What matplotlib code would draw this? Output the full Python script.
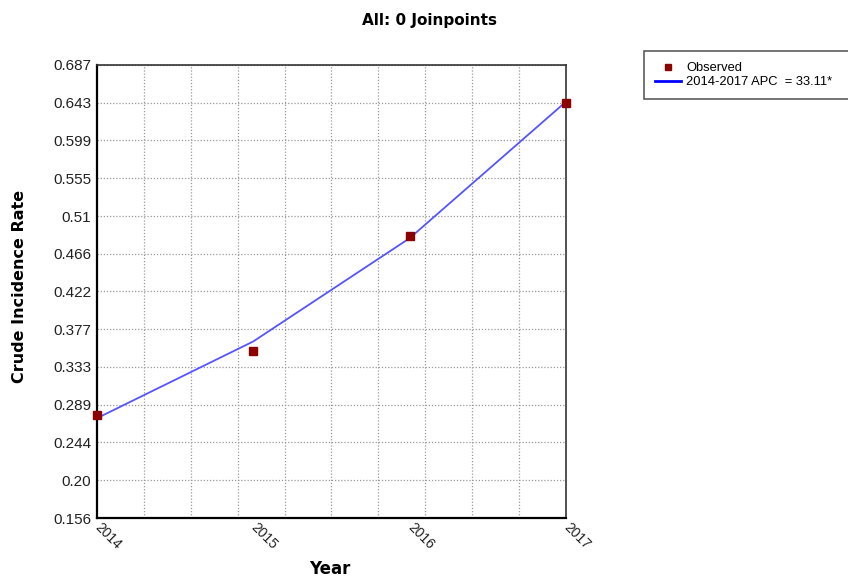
import matplotlib
matplotlib.use("Agg")
import matplotlib.pyplot as plt
import numpy as np
from matplotlib.ticker import FixedLocator

# Crude incidence rate, observed and modelled (0 joinpoints)
years = [2014, 2015, 2016, 2017]
observed = [0.277, 0.352, 0.487, 0.642]
fitted = [0.273, 0.363, 0.484, 0.644]
apc_label = "2014-2017 APC  = 33.11*"

y_tick_labels = ["0.156", "0.20", "0.244", "0.289", "0.333", "0.377", "0.422",
                 "0.466", "0.51", "0.555", "0.599", "0.643", "0.687"]
y_min, y_max = 0.156, 0.687

fig = plt.figure(figsize=(8.48, 5.79), dpi=100)
ax = fig.add_axes([97 / 848, 1 - 518 / 579, 469 / 848, 453 / 579])

ax.plot(years, fitted, color="#5555ff", lw=1.3, label=apc_label, zorder=3)
ax.plot(years, observed, ls="none", marker="s", ms=6, color="#8b0000",
        label="Observed", zorder=4, clip_on=False)

ax.set_xlim(2014, 2017)
ax.set_ylim(y_min, y_max)

# y ticks evenly spaced between the axis limits
ax.yaxis.set_major_locator(FixedLocator(np.linspace(y_min, y_max, len(y_tick_labels))))
ax.set_yticklabels(y_tick_labels, fontsize=11, family="Liberation Sans", color="#222222")

ax.set_xticks(years)
ax.set_xticklabels([str(y) for y in years], fontsize=10, family="Liberation Sans",
                   color="#222222", rotation=-45, ha="left", va="center",
                   rotation_mode="anchor")
ax.xaxis.set_minor_locator(FixedLocator(np.arange(2014.3, 2017, 0.3)))

ax.tick_params(axis="both", which="both", length=0)
ax.tick_params(axis="y", pad=4)
ax.tick_params(axis="x", pad=5)

ax.grid(False)
ax.grid(axis="y", which="major", color="#999999", ls=(0, (1, 1.5)), lw=0.9)
ax.grid(axis="x", which="minor", color="#999999", ls=(0, (1, 1.5)), lw=0.9)

for side in ["left", "bottom"]:
    ax.spines[side].set_linewidth(1.6)
    ax.spines[side].set_color("black")
for side in ["top", "right"]:
    ax.spines[side].set_linewidth(1.2)
    ax.spines[side].set_color("#333333")

fig.text(0.507, 1 - 20 / 579, "All: 0 Joinpoints", ha="center", va="center",
         fontsize=11, fontweight="bold", family="DejaVu Sans")
fig.text(20 / 848, 1 - 286 / 579, "Crude Incidence Rate", rotation=90,
         ha="center", va="center", fontsize=11.5, fontweight="bold", family="DejaVu Sans")
fig.text(330 / 848, 1 - 569 / 579, "Year", ha="center", va="center",
         fontsize=12, fontweight="bold", family="DejaVu Sans")

handles, labels = ax.get_legend_handles_labels()
leg = fig.legend(handles[::-1], labels[::-1], loc="upper left",
                 bbox_to_anchor=(644 / 848, 1 - 52 / 579, 0.3, 0.001),
                 mode="expand", prop={"family": "Liberation Sans", "size": 9.3},
                 frameon=True, fancybox=False, borderpad=0.85, labelspacing=0.15,
                 handlelength=2.0, handletextpad=0.4, borderaxespad=0,
                 markerscale=0.7)
leg.get_frame().set_edgecolor("#333333")
leg.get_frame().set_linewidth(1.2)
for line in leg.get_lines():
    if line.get_label() == apc_label:
        line.set_color("blue")
        line.set_linewidth(2)

fig.savefig("out.png", dpi=100)
